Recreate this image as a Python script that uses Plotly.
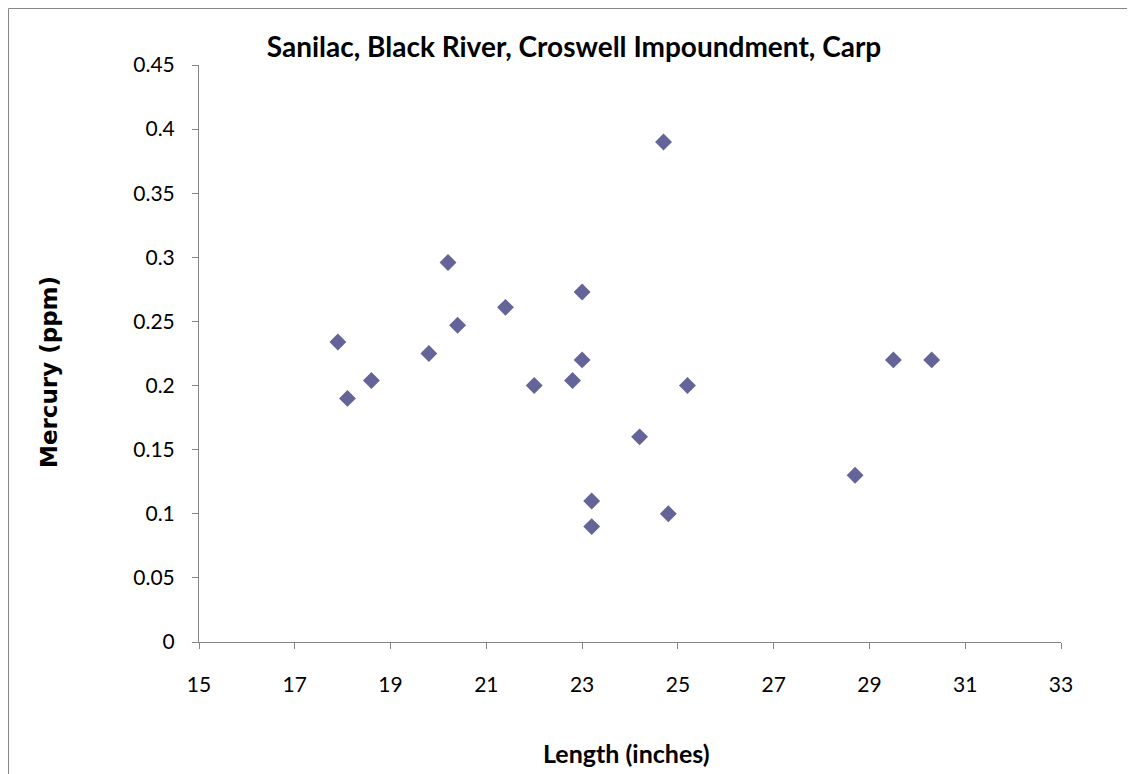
import plotly.graph_objects as go

length_in = [17.9, 18.1, 18.6, 19.8, 20.2, 20.4, 21.4, 22.0, 22.8, 23.0,
             23.0, 23.2, 23.2, 24.2, 24.7, 24.8, 25.2, 28.7, 29.5, 30.3]
mercury_ppm = [0.234, 0.190, 0.204, 0.225, 0.296, 0.247, 0.261, 0.200, 0.204, 0.273,
               0.220, 0.110, 0.090, 0.160, 0.390, 0.100, 0.200, 0.130, 0.220, 0.220]

x_ticks = [15, 17, 19, 21, 23, 25, 27, 29, 31, 33]
y_ticks = [0, 0.05, 0.1, 0.15, 0.2, 0.25, 0.3, 0.35, 0.4, 0.45]
y_tick_labels = ["0", "0.05", "0.1", "0.15", "0.2", "0.25", "0.3", "0.35", "0.4", "0.45"]

# page has an 8px body margin; figure origin is at (8, 8) on the page
OFF = 8
W, H = 1135, 774
ml, mr, mt, mb = 199 - OFF, 74 + OFF, 65 - OFF, 132 + OFF
pw, ph = W - ml - mr, H - mt - mb

FONT = "Lato, Carlito, Calibri, sans-serif"


def px(fx_page):
    return (fx_page - OFF - ml) / pw


def py(fy_page):
    return 1 - (fy_page - OFF - mt) / ph


fig = go.Figure()
fig.add_trace(go.Scatter(
    x=length_in, y=mercury_ppm, mode="markers",
    marker=dict(symbol="diamond", size=13, color="#646499",
                line=dict(width=0)),
    showlegend=False, hoverinfo="x+y"))

axis_common = dict(showgrid=False, zeroline=False, showline=True,
                   linecolor="#868686", linewidth=1, ticks="outside",
                   tickcolor="#868686", ticklen=6, tickwidth=1,
                   tickfont=dict(family=FONT, size=21, color="#000000"))

fig.update_xaxes(range=[15, 33], tickvals=x_ticks, ticktext=[str(v) for v in x_ticks],
                 ticklabelstandoff=18, **axis_common)
fig.update_yaxes(range=[0, 0.45], tickvals=y_ticks, ticktext=y_tick_labels,
                 ticklabelstandoff=13, **axis_common)

fig.update_layout(
    width=W, height=H,
    margin=dict(l=ml, r=mr, t=mt, b=mb, autoexpand=False),
    paper_bgcolor="white", plot_bgcolor="white",
    title=dict(text="<b>Sanilac, Black River, Croswell Impoundment, Carp</b>",
               x=px(574), xref="paper", xanchor="center",
               y=1 - (47 - OFF) / H, yref="container", yanchor="middle",
               font=dict(family=FONT, size=28, color="#000000")),
)

fig.add_annotation(text="<b>Length (inches)</b>", xref="paper", yref="paper",
                   x=px(626), y=py(753), xanchor="center", yanchor="middle",
                   showarrow=False, font=dict(family=FONT, size=25, color="#000000"))
fig.add_annotation(text="<b>Mercury (ppm)</b>", xref="paper", yref="paper",
                   x=px(49), y=py(372), xanchor="center", yanchor="middle", textangle=-90,
                   showarrow=False,
                   font=dict(family="DejaVu Sans, Verdana, sans-serif", size=23, color="#000000"))

# outer chart border (right and bottom edges lie outside the visible page)
fig.add_shape(type="rect", xref="paper", yref="paper",
              x0=px(OFF + 0.5), x1=px(W + 40), y0=py(H + 40), y1=py(OFF + 0.5),
              line=dict(color="#868686", width=1), layer="below")

fig.write_html("out.html")
